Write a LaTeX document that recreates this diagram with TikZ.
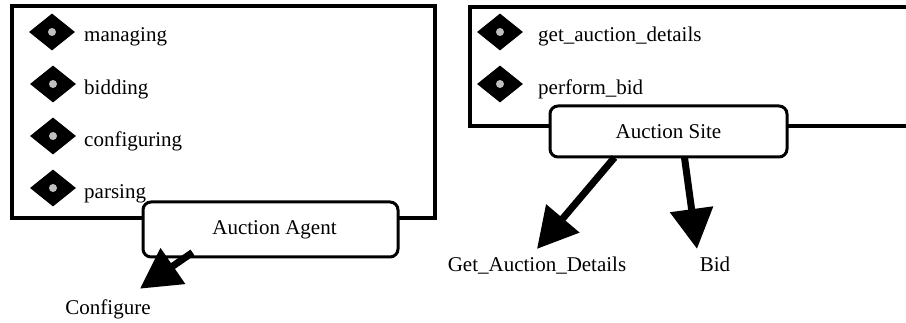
\documentclass[tikz,border=0pt]{standalone}
\usepackage{fontspec}
\setmainfont{Liberation Serif}
\usetikzlibrary{shapes.geometric,arrows.meta}
\begin{document}
\begin{tikzpicture}[x=1pt,y=-1pt,
  every node/.style={font=\fontsize{21}{25}\selectfont},
  frame/.style={draw=black,line width=4pt},
  role/.style={draw=black,line width=3pt,rounded corners=8pt,fill=white,
    inner sep=0pt},
  bullet/.style={shape=diamond,fill=black,minimum width=46pt,minimum height=37pt,
    inner sep=0pt,path picture={\fill[black!25] (path picture bounding box.center) circle (4pt);}},
  item/.style={anchor=base west,inner sep=0pt},
  bigarrow/.style={line width=7pt,-{Triangle[length=40pt,width=42pt]}}]
\useasboundingbox (0,0) rectangle (906,323);
\clip (0,0) rectangle (906,323);

% agent and site frames
\draw[frame] (12,6) rectangle (435,218);
\draw[frame] (470,7) rectangle (930,126);

% agent tasks
\node[bullet] (b1) at (52,32) {};
\node[bullet] (b2) at (53,84) {};
\node[bullet] (b3) at (53,136) {};
\node[bullet] (b4) at (53,188) {};
\node[item] (t1) at (84,42) {managing};
\node[item] (t2) at (84,95) {bidding};
\node[item] (t3) at (84,147) {configuring};
\node[item] (t4) at (84,199) {parsing};

% site tasks
\node[bullet] (c1) at (500,32) {};
\node[bullet] (c2) at (500,84) {};
\node[item] (u1) at (538,42) {get\_auction\_details};
\node[item] (u2) at (538,95) {perform\_bid};

% role labels
\node[role,minimum width=255pt,minimum height=55pt] (agent) at (270.5,229.5) {\hspace{8pt}Auction Agent};
\node[role,minimum width=237pt,minimum height=51pt] (site) at (668.5,131.5) {Auction Site};

% actions
\node[anchor=base] (cfg) at (108,315) {Configure};
\node[anchor=base] (gad) at (537,272) {Get\_Auction\_Details};
\node[anchor=base] (bid) at (715,272) {Bid};

% arrow ends (yshift is in page units: positive is upwards)
\coordinate (a0) at ([xshift=-78pt,yshift=6pt]agent.south);
\coordinate (a1) at ([xshift=32pt,yshift=8pt]cfg.north);
\coordinate (s0) at ([xshift=-54pt,yshift=1pt]site.south);
\coordinate (s1) at ([yshift=5pt]gad.north);
\coordinate (s2) at ([xshift=16pt,yshift=1pt]site.south);
\coordinate (s3) at ([xshift=-18pt,yshift=5pt]bid.north);

\draw[bigarrow] (a0) -- (a1);
\draw[bigarrow] (s0) -- (s1);
\draw[bigarrow] (s2) -- (s3);
\end{tikzpicture}
\end{document}
